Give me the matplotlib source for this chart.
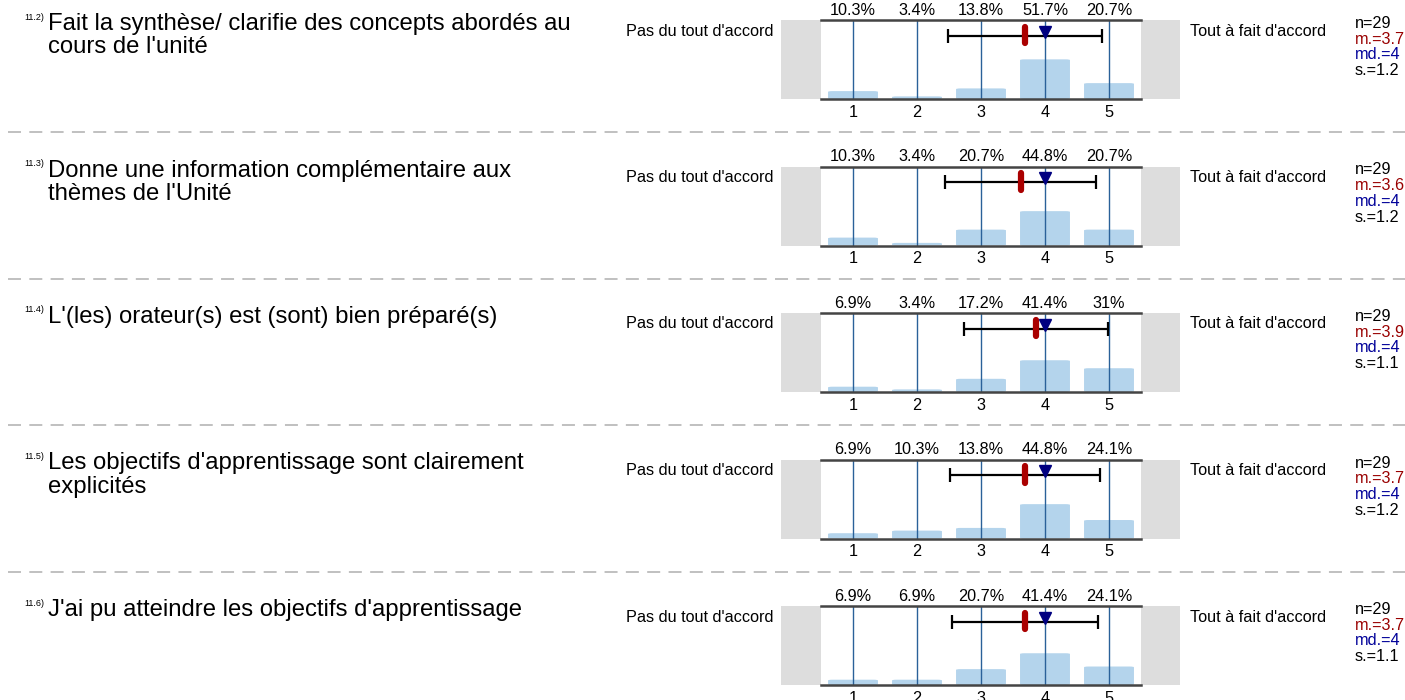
import matplotlib
matplotlib.use("Agg")
import matplotlib.pyplot as plt
from matplotlib.patches import Rectangle, FancyBboxPatch

plt.rcParams['font.family'] = ['Liberation Sans', 'DejaVu Sans']

# data
numeros = ["11.2)", "11.3)", "11.4)", "11.5)", "11.6)"]
questions = [
    "Fait la synthèse/ clarifie des concepts abordés au\ncours de l'unité",
    "Donne une information complémentaire aux\nthèmes de l'Unité",
    "L'(les) orateur(s) est (sont) bien préparé(s)",
    "Les objectifs d'apprentissage sont clairement\nexplicités",
    "J'ai pu atteindre les objectifs d'apprentissage",
]
pourcents = [
    [10.3, 3.4, 13.8, 51.7, 20.7],
    [10.3, 3.4, 20.7, 44.8, 20.7],
    [6.9, 3.4, 17.2, 41.4, 31],
    [6.9, 10.3, 13.8, 44.8, 24.1],
    [6.9, 6.9, 20.7, 41.4, 24.1],
]
n_rep = [29, 29, 29, 29, 29]
moyennes = [3.69, 3.62, 3.86, 3.69, 3.69]
medianes = [4, 4, 4, 4, 4]
ecarts = [1.2, 1.18, 1.12, 1.17, 1.14]
echelle = [1, 2, 3, 4, 5]
gauche = "Pas du tout d'accord"
droite = "Tout à fait d'accord"

W, H = 1405, 700
fig = plt.figure(figsize=(W / 100, H / 100), dpi=100)

def fx(x):
    return x / W

def fy(y):
    return 1 - y / H

pas = 146.5
ymax = 103

for i in range(5):
    top = 20 + i * pas
    bas = top + 79
    ax = fig.add_axes([fx(821), fy(bas), fx(320), 79 / H])
    ax.set_xlim(0.5, 5.5)
    ax.set_ylim(0, ymax)

    # gray side boxes
    ax.add_patch(Rectangle((-0.125, 0), 0.625, ymax, color="#dddddd",
                           clip_on=False, lw=0))
    ax.add_patch(Rectangle((5.5, 0), 0.61, ymax, color="#dddddd",
                           clip_on=False, lw=0))

    for x, p in zip(echelle, pourcents[i]):
        ax.add_patch(FancyBboxPatch((x - 0.39, 0), 0.78, p,
                                    boxstyle="round,pad=0,rounding_size=0.07",
                                    mutation_aspect=14,
                                    fc="#b4d4ec", ec="none", zorder=1))
        ax.axvline(x, color="#2a6199", lw=1, zorder=2)
        ax.text(x, ymax + 3, f"{p:g}%", ha="center", va="bottom", fontsize=11.7)

    # error bar, mean and median
    m, s = moyennes[i], ecarts[i]
    yb = ymax * 0.80
    ax.errorbar([m], [yb], xerr=[s], color="black", lw=1.6, capsize=5,
                capthick=1.6, zorder=3)
    ax.plot([m, m], [yb - 10, yb + 12], color="#aa0000", lw=4.5,
            solid_capstyle="round", zorder=4)
    ax.plot([medianes[i]], [yb + 5], marker="v", color="#000080",
            markersize=9, ls="none", zorder=5)

    ax.spines["left"].set_visible(False)
    ax.spines["right"].set_visible(False)
    for sp in ["top", "bottom"]:
        ax.spines[sp].set_color("#444444")
        ax.spines[sp].set_linewidth(1.8)
    ax.set_yticks([])
    ax.set_xticks(echelle)
    ax.set_xticklabels([str(e) for e in echelle], fontsize=11.7)
    ax.tick_params(axis="x", length=0, pad=4)

    # texts around the panel
    fig.text(fx(44), fy(top - 3), numeros[i], fontsize=6.5, va="center", ha="right")
    fig.text(fx(48), fy(top - 7), questions[i], fontsize=17.2, va="top",
             linespacing=1.06)
    fig.text(fx(773), fy(top + 11), gauche, fontsize=11.7, ha="right", va="center")
    fig.text(fx(1190), fy(top + 11), droite, fontsize=11.7, ha="left", va="center")
    stats = [(f"n={n_rep[i]}", "black"), (f"m.={m:.1f}", "#990000"),
             (f"md.={medianes[i]}", "#000099"), (f"s.={s:.1f}", "black")]
    for k, (t, c) in enumerate(stats):
        fig.text(fx(1355), fy(top + 3.5 + k * 15.7), t, fontsize=11.7, color=c,
                 va="center", linespacing=1)

    if i < 4:
        ysep = fy(bas + 33)
        fig.add_artist(plt.Line2D([fx(8), 1], [ysep, ysep], color="#bbbbbb",
                                  lw=1.3, dashes=(7.2, 4.6)))

fig.savefig("out.png", dpi=100)
